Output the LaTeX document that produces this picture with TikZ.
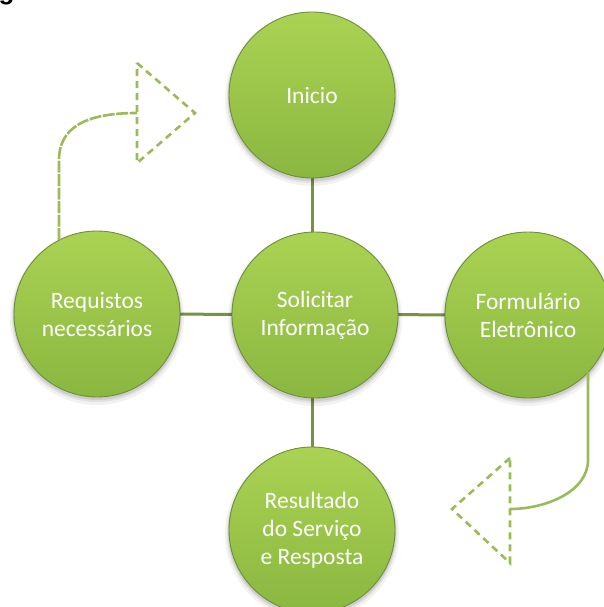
\documentclass[tikz,border=0pt]{standalone}
\usepackage{fontspec}
\setmainfont{Carlito}
\newfontfamily\headfont{Liberation Sans}
\usetikzlibrary{calc,backgrounds}
\definecolor{ballTop}{HTML}{AAD353}
\definecolor{ballBot}{HTML}{8AB740}
\definecolor{ballEdge}{HTML}{6F8E3A}
\definecolor{connCol}{HTML}{77933C}
\definecolor{arrCol}{HTML}{9BBB59}
\tikzset{
  ball/.style={circle, minimum size=166pt, inner sep=0pt, text=white,
    font=\fontsize{23.5}{28}\selectfont, align=center,
    top color=ballTop, bottom color=ballBot, draw=ballEdge, line width=0.9pt},
  conn/.style={draw=connCol, line width=3pt},
  stem/.style={draw=arrCol, line width=2.6pt},
  tri/.style={draw=arrCol, line width=2.6pt, dash pattern=on 7pt off 5pt, line join=miter},
}
\newcommand{\ballshadow}[1]{%
  \fill[black, opacity=0.05] ($(#1)+(0,-4)$) circle (87pt);
  \fill[black, opacity=0.07] ($(#1)+(0,-3)$) circle (85pt);
  \fill[black, opacity=0.09] ($(#1)+(0,-2)$) circle (84pt);
}
\begin{document}
\begin{tikzpicture}[x=1pt,y=1pt]
\useasboundingbox (0,0) rectangle (603,-607);
\node[anchor=base west, font=\headfont\bfseries\fontsize{26}{30}\selectfont, inner sep=0pt] (hd) at (-1.5,0.5) {g};
% shadows
\foreach \p in {{312,-95},{315,-315},{97,-314},{528,-315},{312,-530}}{
  \ballshadow{\p}
}
\node[ball] (ini) at (312,-95) {Inicio};
\node[ball] (mid) at (315,-315) {Solicitar\\Informação};
\node[ball] (req) at (97,-314) {Requistos\\necessários};
\node[ball] (form) at (528,-315) {Formulário\\Eletrônico};
\node[ball] (res) at (312,-530) {Resultado\\do Serviço\\e Resposta};
% connectors
\begin{scope}[on background layer]
\draw[conn] (ini.center) -- (ini.center |- mid.center);
\draw[conn] (res.center) -- (res.center |- mid.center);
\draw[conn] (req.center) -- (form.center);
\end{scope}
% left arrow
\coordinate (ls) at (59,-240);
\coordinate (le) at (137,-113);
\draw[stem, dash pattern=on 12pt off 1.5pt] (ls) -- (59,-160) .. controls (59,-128) and (85,-113) .. (le);
\coordinate (lt1) at (137,-63);
\coordinate (lt2) at (195,-113);
\coordinate (lt3) at (137,-163);
\draw[tri] (lt1) -- (lt2) -- (lt3) -- cycle;
% right arrow
\coordinate (rs) at (588,-372);
\coordinate (re) at (510,-509);
\draw[stem] (rs) -- (588,-460) .. controls (588,-492) and (545,-509) .. (re);
\coordinate (rt1) at (510,-458);
\coordinate (rt2) at (452,-509);
\coordinate (rt3) at (510,-563);
\draw[tri] (rt1) -- (rt2) -- (rt3) -- cycle;
\end{tikzpicture}
\end{document}
